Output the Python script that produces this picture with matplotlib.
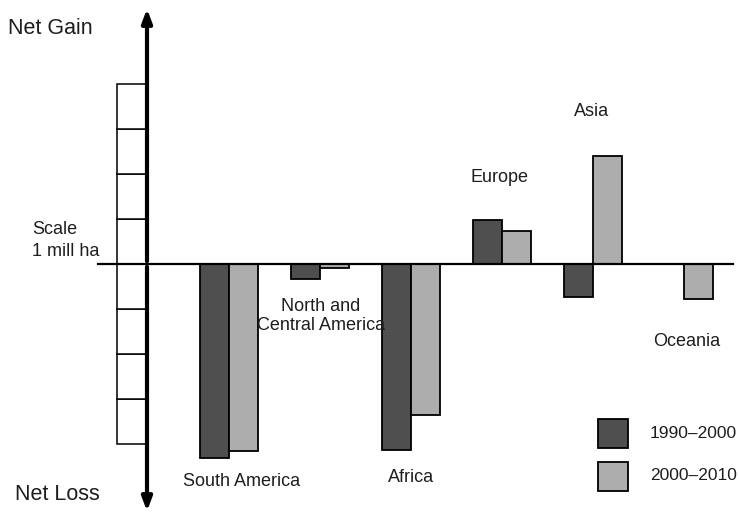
import matplotlib
matplotlib.use("Agg")
import matplotlib.pyplot as plt
import numpy as np
from matplotlib.patches import Rectangle

plt.rcParams['font.family'] = ['Liberation Sans', 'DejaVu Sans']

# net change in forest area, million ha per year
regions = ["South America", "North and\nCentral America", "Africa",
           "Europe", "Asia", "Oceania"]
loss_1990_2000 = [-4.3, -0.33, -4.13, 0.98, -0.73, 0.0]
loss_2000_2010 = [-4.15, -0.08, -3.36, 0.73, 2.4, -0.78]
periods = ["1990\u20132000", "2000\u20132010"]
scale_units = [-4, -3, -2, -1, 0, 1, 2, 3]

dark = "#4f4f4f"
light = "#adadad"

W, H = 739, 516
fig = plt.figure(figsize=(W / 100, H / 100), dpi=100)

# pixel geometry of the drawing
x0_px, dx_px = 229, 91      # first group centre, spacing between groups
y0_px, unit_px = 264, 45    # baseline, px per 1 mill ha

ax = fig.add_axes([0, 0, 1, 1])
ax.set_xlim(-x0_px / dx_px, (W - x0_px) / dx_px)
ax.set_ylim(-(H - y0_px) / unit_px, y0_px / unit_px)
ax.axis('off')

# overlay in pixel coordinates for the decorations
ov = fig.add_axes([0, 0, 1, 1], facecolor='none')
ov.set_xlim(0, W)
ov.set_ylim(H, 0)
ov.axis('off')

x = np.arange(len(regions))
bw = 29 / dx_px
for xi, v in zip(x, loss_1990_2000):
    if v != 0:
        ax.bar(xi - bw / 2, v, bw, color=dark, edgecolor='black', linewidth=1.3)
for xi, v in zip(x, loss_2000_2010):
    if v != 0:
        ax.bar(xi + bw / 2, v, bw, color=light, edgecolor='black', linewidth=1.3)

# scale boxes along the vertical axis
bx0 = (117 - x0_px) / dx_px
bx1 = (147 - x0_px) / dx_px
for u in scale_units:
    ax.add_patch(Rectangle((bx0, u), bx1 - bx0, 1, facecolor='white',
                           edgecolor='black', linewidth=1.1, zorder=2))

# baseline and vertical arrow
ov.plot([98, 733], [y0_px, y0_px], color='black', lw=1.6, zorder=5)
ov.annotate("", xy=(147, 6), xytext=(147, y0_px),
            arrowprops=dict(arrowstyle='-|>,head_width=0.3,head_length=0.8',
                            color='black', lw=3), zorder=6)
ov.annotate("", xy=(147, 514), xytext=(147, y0_px),
            arrowprops=dict(arrowstyle='-|>,head_width=0.3,head_length=0.8',
                            color='black', lw=3), zorder=6)

fs = 13
tc = '#1e1e1e'
ov.text(8, 28, "Net Gain", fontsize=15.5, va='center', ha='left', color=tc)
ov.text(15, 495, "Net Loss", fontsize=15.5, va='center', ha='left', color=tc)
ov.text(32, 229, "Scale", fontsize=fs, va='center', ha='left', color=tc)
ov.text(32, 251, "1 mill ha", fontsize=fs, va='center', ha='left', color=tc)

label_pos = [(242, 481), (321, 316), (411, 478), (500, 177), (592, 112), (687, 341)]
for name, (lx, ly) in zip(regions, label_pos):
    ov.text(lx, ly, name, fontsize=fs, ha='center', va='center', color=tc,
            linespacing=1.2)

# legend
for (yy, c, lab) in [(419, dark, periods[0]), (462, light, periods[1])]:
    ov.add_patch(Rectangle((598, yy), 30, 29, facecolor=c, edgecolor='black',
                           linewidth=1.3))
    ov.text(650, yy + 14, lab, fontsize=12.5, ha='left', va='center', color=tc)

fig.savefig("out.png", dpi=100)
